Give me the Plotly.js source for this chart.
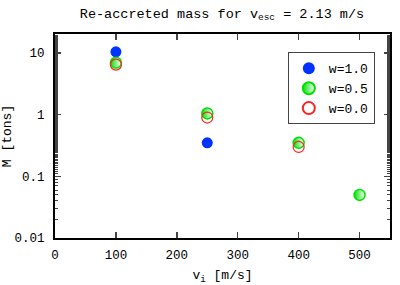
<!DOCTYPE html>
<html><head><meta charset="utf-8">
<script src="https://cdn.plot.ly/plotly-3.0.1.min.js"></script>
<style>html,body{margin:0;padding:0;background:#fff}#c{width:400px;height:285px}</style>
</head><body><div id="c"></div>
<script>
const x_w10 = [100, 250];
const m_w10 = [10.5, 0.35];
const x_w05 = [100, 250, 400, 500];
const m_w05 = [7.0, 1.05, 0.35, 0.05];
const x_w00 = [100, 250, 400];
const m_w00 = [6.5, 0.9, 0.3];
const seriesNames = ['w=1.0', 'w=0.5', 'w=0.0'];
const yTickVals = [0.01, 0.1, 1, 10];
const yTickText = ['0.01', '0.1', '1', '10'];
const xTickVals = [0, 100, 200, 300, 400, 500];

const F = 'Liberation Mono, Courier New, monospace';
const traces = [
  {x: x_w10, y: m_w10, name: seriesNames[0], mode: 'markers', type: 'scatter',
   marker: {symbol: 'circle', size: 11, color: '#0033ff', line: {width: 0}}},
  {x: x_w05, y: m_w05, name: seriesNames[1], mode: 'markers', type: 'scatter',
   marker: {symbol: 'circle', size: 11, color: '#00e000', line: {width: 1.5, color: '#00e000'},
            gradient: {type: 'horizontal', color: '#ffffff'}}},
  {x: x_w00, y: m_w00, name: seriesNames[2], mode: 'markers', type: 'scatter',
   marker: {symbol: 'circle-open', size: 11, color: '#ff2222', line: {width: 1.2, color: '#ff2222'}}}
];
const layout = {
  width: 400, height: 285,
  margin: {l: 55, r: 10, t: 34, b: 47},
  paper_bgcolor: '#fff', plot_bgcolor: '#fff',
  font: {family: F, size: 12.5, color: '#000'},
  title: {text: 'Re-accreted mass for v<sub>esc</sub> = 2.13 m/s', font: {family: F, size: 13.5},
          x: 0.555, xanchor: 'center', y: 0.955, yanchor: 'middle'},
  xaxis: {range: [0, 550], tickvals: xTickVals, ticks: 'inside', ticklen: 6, tickwidth: 1.5,
          ticklabelstandoff: 4,
          showline: true, linewidth: 2, linecolor: '#000', mirror: 'ticks', showgrid: false, zeroline: false,
          title: {text: 'v<sub>i</sub> [m/s]', font: {family: F, size: 13}, standoff: 8}},
  yaxis: {type: 'log', range: [-2, 1.31], tickvals: yTickVals, ticktext: yTickText,
          ticks: 'inside', ticklen: 6, tickwidth: 1.5, ticklabelstandoff: 6,
          showline: true, linewidth: 2, linecolor: '#000', mirror: 'ticks', showgrid: false, zeroline: false,
          minor: {ticks: 'inside', ticklen: 3, tickwidth: 1, showgrid: false},
          title: {text: 'M [tons]', font: {family: F, size: 13}, standoff: 2}},
  showlegend: true,
  legend: {x: 0.695, y: 0.91, xanchor: 'left', yanchor: 'top', bgcolor: '#fff',
           bordercolor: '#444', borderwidth: 1, font: {family: F, size: 13},
           tracegroupgap: 2, itemsizing: 'constant'}
};
Plotly.newPlot('c', traces, layout, {displayModeBar: false, staticPlot: true});
</script></body></html>
